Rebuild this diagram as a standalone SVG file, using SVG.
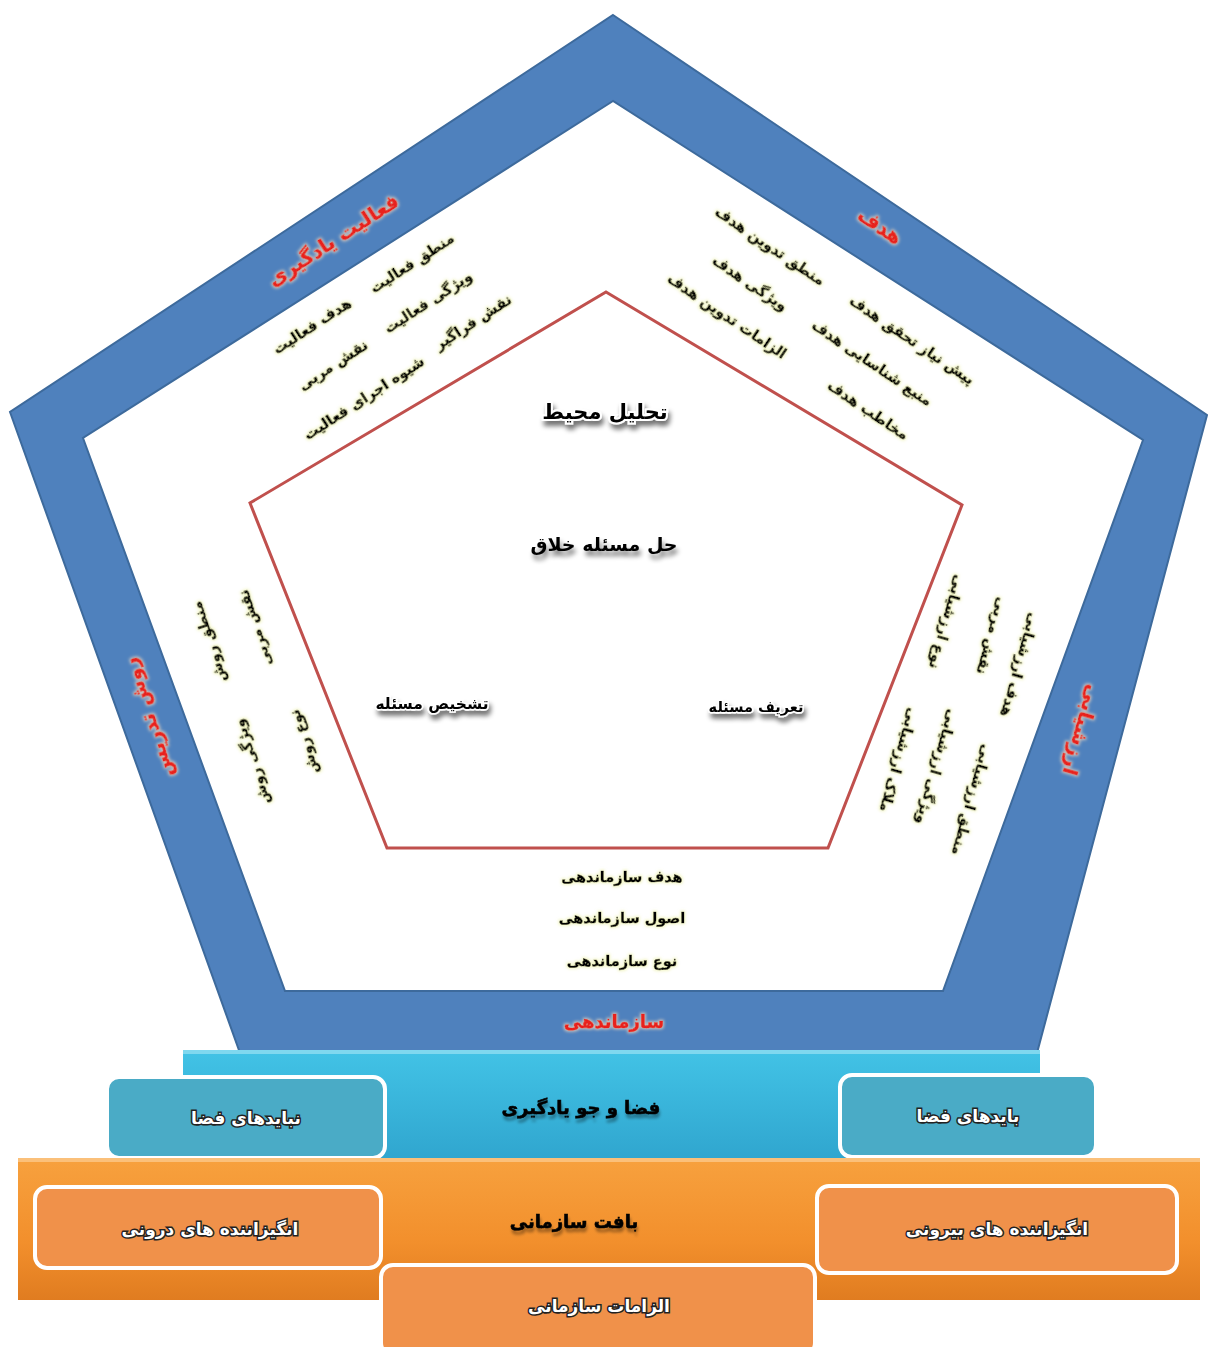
<svg xmlns="http://www.w3.org/2000/svg" width="1208" height="1347" viewBox="0 0 1208 1347">
<style>
.fa{font-family:"DejaVu Sans","Noto Sans",sans-serif;font-weight:bold;text-anchor:middle;dominant-baseline:central}
.item{font-size:14.5px;fill:#000;stroke:#000;stroke-width:0.5;filter:url(#glowY)}
.red{font-size:20px;fill:#e8201c;stroke:#e8201c;stroke-width:0.6;filter:url(#glowW)}
.core{font-size:21px;fill:#000;stroke:#fff;stroke-width:4;paint-order:stroke;filter:url(#shadow)}
.core2{font-size:15.5px;fill:#000;stroke:#fff;stroke-width:3;paint-order:stroke;filter:url(#shadow)}
.bar{font-size:18px;fill:#000;stroke:#000;stroke-width:0.6;filter:url(#shadowS)}
.box{font-size:17px;fill:#fff;stroke:#222;stroke-width:3;paint-order:stroke}
.bx{stroke:#fff;stroke-width:4}
</style>
<defs>
<filter id="glowY" x="-20%" y="-40%" width="140%" height="180%">
<feMorphology in="SourceAlpha" operator="dilate" radius="1.2" result="d"/>
<feGaussianBlur in="d" stdDeviation="1.5" result="b"/>
<feFlood flood-color="#eef2b0" flood-opacity="0.75"/>
<feComposite in2="b" operator="in" result="g"/>
<feMerge><feMergeNode in="g"/><feMergeNode in="SourceGraphic"/></feMerge>
</filter>
<filter id="glowW" x="-20%" y="-40%" width="140%" height="180%">
<feMorphology in="SourceAlpha" operator="dilate" radius="1" result="d"/>
<feGaussianBlur in="d" stdDeviation="1.5" result="b"/>
<feFlood flood-color="#ffe0c0" flood-opacity="0.7"/>
<feComposite in2="b" operator="in" result="g"/>
<feMerge><feMergeNode in="g"/><feMergeNode in="SourceGraphic"/></feMerge>
</filter>
<filter id="shadow" x="-20%" y="-40%" width="140%" height="200%">
<feGaussianBlur in="SourceAlpha" stdDeviation="2.5" result="b"/>
<feOffset in="b" dx="2" dy="5" result="o"/>
<feComponentTransfer in="o" result="s"><feFuncA type="linear" slope="0.55"/></feComponentTransfer>
<feMerge><feMergeNode in="s"/><feMergeNode in="SourceGraphic"/></feMerge>
</filter>
<filter id="shadowS" x="-20%" y="-40%" width="140%" height="200%">
<feGaussianBlur in="SourceAlpha" stdDeviation="1.5" result="b"/>
<feOffset in="b" dx="1" dy="4" result="o"/>
<feComponentTransfer in="o" result="s"><feFuncA type="linear" slope="0.35"/></feComponentTransfer>
<feMerge><feMergeNode in="s"/><feMergeNode in="SourceGraphic"/></feMerge>
</filter>
<linearGradient id="cyanG" x1="0" y1="0" x2="0" y2="1">
<stop offset="0" stop-color="#42c3e6"/><stop offset="1" stop-color="#30a6cf"/>
</linearGradient>
<linearGradient id="orangeG" x1="0" y1="0" x2="0" y2="1">
<stop offset="0" stop-color="#f7a13e"/><stop offset="0.6" stop-color="#f28f2c"/><stop offset="1" stop-color="#e07c20"/>
</linearGradient>
</defs>

<g id="pentagon-band">
<path d="M613,15 L1207,415 L1037,1053 L240,1053 L10,412 Z M613,101 L83,438 L285,991 L943,991 L1143,440 Z" fill="#4f81bd" stroke="#3d6a9c" stroke-width="2" fill-rule="evenodd"/>
</g>
<g id="inner-pentagon">
<polygon points="606,292 962,505 828,848 387,848 250,503" fill="none" stroke="#c0504d" stroke-width="3"/>
</g>

<g id="node-faaliat" class="fa">
<text class="red" transform="translate(333,240) rotate(-33)">فعالیت یادگیری</text>
<text class="item" transform="translate(412,263) rotate(-33)">منطق فعالیت</text>
<text class="item" transform="translate(428,302) rotate(-33)">ویژگی فعالیت</text>
<text class="item" transform="translate(473,322) rotate(-33)">نقش فراگیر</text>
<text class="item" transform="translate(312,326) rotate(-33)">هدف فعالیت</text>
<text class="item" transform="translate(333,365) rotate(-33)">نقش مربی</text>
<text class="item" transform="translate(364,398) rotate(-33)">شیوه اجرای فعالیت</text>
</g>

<g id="node-hadaf" class="fa">
<text class="red" transform="translate(880,226) rotate(34)">هدف</text>
<text class="item" transform="translate(770,246) rotate(34)">منطق تدوین هدف</text>
<text class="item" transform="translate(750,283) rotate(34)">ویژگی هدف</text>
<text class="item" transform="translate(727,316) rotate(34)">الزامات تدوین هدف</text>
<text class="item" transform="translate(912,340) rotate(34)">پیش نیاز تحقق هدف</text>
<text class="item" transform="translate(872,363) rotate(34)">منبع شناسایی هدف</text>
<text class="item" transform="translate(868,410) rotate(34)">مخاطب هدف</text>
</g>

<g id="node-arzeshyabi" class="fa">
<text class="red" transform="translate(1082,730) rotate(106)">ارزشیابی</text>
<text class="item" transform="translate(1020,665) rotate(106)">هدف ارزشیابی</text>
<text class="item" transform="translate(992,636) rotate(106)">نقش مربی</text>
<text class="item" transform="translate(947,622) rotate(106)">نوع ارزشیابی</text>
<text class="item" transform="translate(972,800) rotate(106)">منطق ارزشیابی</text>
<text class="item" transform="translate(937,767) rotate(106)">ویژگی ارزشیابی</text>
<text class="item" transform="translate(899,760) rotate(106)">ملاک ارزشیابی</text>
</g>

<g id="node-ravesh" class="fa">
<text class="red" transform="translate(148,718) rotate(-108)">روش تدریس</text>
<text class="item" transform="translate(209,642) rotate(-108)">منطق روش</text>
<text class="item" transform="translate(255,628) rotate(-108)">نقش مربی</text>
<text class="item" transform="translate(252,762) rotate(-108)">ویژگی روش</text>
<text class="item" transform="translate(304,742) rotate(-108)">نوع روش</text>
</g>

<g id="node-sazmandehi" class="fa">
<text class="item" x="622" y="877">هدف سازماندهی</text>
<text class="item" x="622" y="918">اصول سازماندهی</text>
<text class="item" x="622" y="961">نوع سازماندهی</text>
<text class="red" x="614" y="1021" style="font-size:18px">سازماندهی</text>
</g>

<g id="node-core" class="fa">
<text class="core" x="605" y="412">تحلیل محیط</text>
<text class="core" x="604" y="544" style="stroke:none;font-size:19px">حل مسئله خلاق</text>
<text class="core2" x="432" y="704">تشخیص مسئله</text>
<text class="core2" x="756" y="707" style="font-size:14.5px">تعریف مسئله</text>
</g>

<g id="node-faza">
<rect x="183" y="1050" width="857" height="108" fill="url(#cyanG)"/>
<rect x="183" y="1050" width="857" height="4" fill="#7fd8ef"/>
<text class="fa bar" x="581" y="1107">فضا و جو یادگیری</text>
</g>
<g id="node-nabayad">
<rect class="bx" x="107" y="1077" width="278" height="81" rx="12" fill="#4aabc6"/>
<text class="fa box" x="246" y="1118">نبایدهای فضا</text>
</g>
<g id="node-bayad">
<rect class="bx" x="840" y="1075" width="256" height="82" rx="12" fill="#4aabc6"/>
<text class="fa box" x="968" y="1116">بایدهای فضا</text>
</g>

<g id="node-baft">
<rect x="18" y="1158" width="1182" height="142" fill="url(#orangeG)"/>
<rect x="18" y="1158" width="1182" height="4" fill="#fbc07a"/>
<text class="fa bar" x="574" y="1221">بافت سازمانی</text>
</g>
<g id="node-daruni">
<rect class="bx" x="35" y="1187" width="346" height="81" rx="12" fill="#f0914a"/>
<text class="fa box" x="210" y="1229">انگیزاننده های درونی</text>
</g>
<g id="node-biruni">
<rect class="bx" x="817" y="1186" width="360" height="87" rx="12" fill="#f0914a"/>
<text class="fa box" x="997" y="1229">انگیزاننده های بیرونی</text>
</g>
<g id="node-elzamat">
<rect class="bx" x="381" y="1265" width="434" height="90" rx="12" fill="#f0914a"/>
<text class="fa box" x="599" y="1306">الزامات سازمانی</text>
</g>
</svg>
